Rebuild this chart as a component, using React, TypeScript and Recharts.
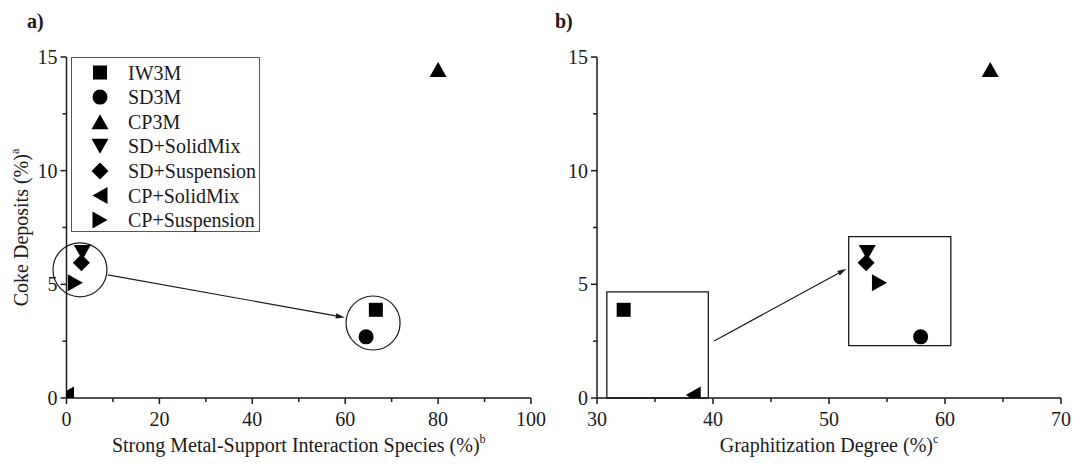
import React from 'react';
import {
  ScatterChart,
  Scatter,
  XAxis,
  YAxis,
  Legend,
  Label,
  ReferenceDot,
  ReferenceArea,
  ReferenceLine,
} from 'recharts';

// series, in legend order
const seriesNames = ['IW3M', 'SD3M', 'CP3M', 'SD+SolidMix', 'SD+Suspension', 'CP+SolidMix', 'CP+Suspension'];
const markerKinds = ['square', 'circle', 'triangleUp', 'triangleDown', 'diamond', 'triangleLeft', 'triangleRight'];

// values
const cokeDeposits = [3.88, 2.69, 14.45, 6.4, 5.95, 0.13, 5.07];
const smsiSpecies = [66.6, 64.5, 80.0, 3.4, 3.2, 0.0, 1.9];
const graphitization = [32.3, 57.9, 63.9, 53.3, 53.2, 38.3, 54.35];

// axis ticks (majors get labels)
const xTicksA = [0, 10, 20, 30, 40, 50, 60, 70, 80, 90, 100];
const xTicksB = [30, 35, 40, 45, 50, 55, 60, 65, 70];
const yTicks = [0, 2.5, 5, 7.5, 10, 12.5, 15];

// annotations (data units)
const circlesA = [
  { x: 2.9, y: 5.64 },
  { x: 66.0, y: 3.3 },
];
const arrowA = [
  { x: 8.9, y: 5.42 },
  { x: 59.9, y: 3.54 },
];
const boxesB = [
  { x1: 30.85, x2: 39.6, y1: 0, y2: 4.67 },
  { x1: 51.7, x2: 60.5, y1: 2.3, y2: 7.1 },
];
const arrowB = [
  { x: 40.1, y: 2.51 },
  { x: 51.5, y: 5.68 },
];

const FONT = '"Liberation Serif", "Times New Roman", serif';
const INK = '#1a1a1a';

const Marker = ({ cx, cy, kind }: { cx: number; cy: number; kind: string }) => {
  if (cx == null || cy == null) return null;
  switch (kind) {
    case 'square':
      return <rect x={cx - 7} y={cy - 7} width={14} height={14} fill="#000" />;
    case 'circle':
      return <circle cx={cx} cy={cy} r={7.5} fill="#000" />;
    case 'triangleUp':
      return <polygon points={`${cx},${cy - 7.5} ${cx + 8.5},${cy + 7.5} ${cx - 8.5},${cy + 7.5}`} fill="#000" />;
    case 'triangleDown':
      return <polygon points={`${cx - 8.5},${cy - 7.5} ${cx + 8.5},${cy - 7.5} ${cx},${cy + 7.5}`} fill="#000" />;
    case 'triangleLeft':
      return <polygon points={`${cx - 7.5},${cy} ${cx + 7.5},${cy - 8.5} ${cx + 7.5},${cy + 8.5}`} fill="#000" />;
    case 'triangleRight':
      return <polygon points={`${cx + 7.5},${cy} ${cx - 7.5},${cy - 8.5} ${cx - 7.5},${cy + 8.5}`} fill="#000" />;
    case 'diamond':
      return <polygon points={`${cx},${cy - 8.5} ${cx + 8.5},${cy} ${cx},${cy + 8.5} ${cx - 8.5},${cy}`} fill="#000" />;
    default:
      return null;
  }
};

// ticks drawn by hand so minor ticks can be shorter and unlabelled
const renderXTick = (props: any, majorStep: number) => {
  const { x, y, payload } = props;
  const major = payload.value % majorStep === 0;
  return (
    <g>
      <line x1={x} y1={y} x2={x} y2={y + (major ? 6 : 4)} stroke={INK} strokeWidth={1.5} />
      {major && (
        <text x={x} y={y + 28} textAnchor="middle" fontFamily={FONT} fontSize={20} fill={INK}>
          {payload.value}
        </text>
      )}
    </g>
  );
};

const renderYTick = (props: any) => {
  const { x, y, payload } = props;
  const major = payload.value % 5 === 0;
  return (
    <g>
      <line x1={x - (major ? 6 : 4)} y1={y} x2={x} y2={y} stroke={INK} strokeWidth={1.5} />
      {major && (
        <text x={x - 9} y={y + 7} textAnchor="end" fontFamily={FONT} fontSize={20} fill={INK}>
          {payload.value}
        </text>
      )}
    </g>
  );
};

const xTitle = (text: string, sup: string) => (props: any) => {
  const { x, y, width } = props.viewBox;
  return (
    <text x={x + width / 2} y={y + 54} textAnchor="middle" fontFamily={FONT} fontSize={20} fill={INK}>
      {text}
      <tspan dy={-9} fontSize={12}>{sup}</tspan>
    </text>
  );
};

const yTitle = (props: any) => {
  const { y, height } = props.viewBox;
  const cx = 28;
  const cy = y + height / 2;
  return (
    <text x={cx} y={cy} transform={`rotate(-90, ${cx}, ${cy})`} textAnchor="middle" fontFamily={FONT} fontSize={20} fill={INK}>
      Coke Deposits (%)
      <tspan dy={-9} fontSize={12}>a</tspan>
    </text>
  );
};

const Arrow = (props: any) => {
  const { x1, y1, x2, y2 } = props;
  if (x1 == null) return null;
  const ang = Math.atan2(y2 - y1, x2 - x1);
  const len = 9;
  const half = 2.6;
  const bx = x2 - len * Math.cos(ang);
  const by = y2 - len * Math.sin(ang);
  const px = -Math.sin(ang) * half;
  const py = Math.cos(ang) * half;
  return (
    <g>
      <line x1={x1} y1={y1} x2={bx} y2={by} stroke={INK} strokeWidth={1.2} />
      <polygon points={`${x2},${y2} ${bx + px},${by + py} ${bx - px},${by - py}`} fill={INK} />
    </g>
  );
};

const LegendBox = () => (
  <svg width={189} height={175} style={{ display: 'block' }}>
    <rect x={0.5} y={0.5} width={188} height={174} fill="#fff" stroke="#555" strokeWidth={1} />
    {seriesNames.map((name, i) => {
      const cy = 15.5 + i * 24.6;
      return (
        <g key={name}>
          <Marker cx={29} cy={cy} kind={markerKinds[i]} />
          <text x={57} y={cy + 7} fontFamily={FONT} fontSize={20} fill={INK}>
            {name}
          </text>
        </g>
      );
    })}
  </svg>
);

const axisLine = { stroke: INK, strokeWidth: 1.5 };

// panel a is drawn a bit wider than its half so the "100" label is not cut
const PanelA = () => (
  <ScatterChart width={560} height={466} margin={{ top: 57, right: 29, bottom: 8, left: 6.5 }}>
    <XAxis
      type="number"
      dataKey="x"
      domain={[0, 100]}
      ticks={xTicksA}
      interval={0}
      allowDataOverflow
      height={60}
      tickSize={0}
      tickMargin={0}
      tickLine={false}
      axisLine={axisLine}
      tick={(p: any) => renderXTick(p, 20)}
    >
      <Label content={xTitle('Strong Metal-Support Interaction Species (%)', 'b')} />
    </XAxis>
    <YAxis
      type="number"
      dataKey="y"
      domain={[0, 15]}
      ticks={yTicks}
      interval={0}
      allowDataOverflow
      width={60}
      tickSize={0}
      tickMargin={0}
      tickLine={false}
      axisLine={axisLine}
      tick={renderYTick}
    >
      <Label content={yTitle} />
    </YAxis>
    <Legend
      layout="vertical"
      align="center"
      verticalAlign="middle"
      content={() => <LegendBox />}
      wrapperStyle={{ position: 'absolute', left: 70.5, top: 56.5, width: 189, height: 175 }}
    />
    {circlesA.map((c, i) => (
      <ReferenceDot key={i} x={c.x} y={c.y} r={27} fill="none" stroke={INK} strokeWidth={1.2} ifOverflow="visible" />
    ))}
    <ReferenceLine segment={arrowA} shape={<Arrow />} ifOverflow="visible" />
    {seriesNames.map((name, i) => (
      <Scatter
        key={name}
        name={name}
        data={[{ x: smsiSpecies[i], y: cokeDeposits[i] }]}
        isAnimationActive={false}
        shape={(p: any) => <Marker cx={p.cx} cy={p.cy} kind={markerKinds[i]} />}
      />
    ))}
  </ScatterChart>
);

const PanelB = () => (
  <ScatterChart width={533} height={466} margin={{ top: 57, right: 12, bottom: 8, left: 7 }}>
    <XAxis
      type="number"
      dataKey="x"
      domain={[30, 70]}
      ticks={xTicksB}
      interval={0}
      allowDataOverflow
      height={60}
      tickSize={0}
      tickMargin={0}
      tickLine={false}
      axisLine={axisLine}
      tick={(p: any) => renderXTick(p, 10)}
    >
      <Label content={xTitle('Graphitization Degree (%)', 'c')} />
    </XAxis>
    <YAxis
      type="number"
      dataKey="y"
      domain={[0, 15]}
      ticks={yTicks}
      interval={0}
      allowDataOverflow
      width={50}
      tickSize={0}
      tickMargin={0}
      tickLine={false}
      axisLine={axisLine}
      tick={renderYTick}
    />
    {boxesB.map((b, i) => (
      <ReferenceArea
        key={i}
        x1={b.x1}
        x2={b.x2}
        y1={b.y1}
        y2={b.y2}
        fill="none"
        stroke={INK}
        strokeWidth={1.3}
        ifOverflow="visible"
      />
    ))}
    <ReferenceLine segment={arrowB} shape={<Arrow />} ifOverflow="visible" />
    {seriesNames.map((name, i) => (
      <Scatter
        key={name}
        name={name}
        data={[{ x: graphitization[i], y: cokeDeposits[i] }]}
        isAnimationActive={false}
        shape={(p: any) => <Marker cx={p.cx} cy={p.cy} kind={markerKinds[i]} />}
      />
    ))}
  </ScatterChart>
);

const panelLabel: React.CSSProperties = {
  position: 'absolute',
  top: 11,
  fontFamily: FONT,
  fontSize: 20,
  fontWeight: 'bold',
  lineHeight: '20px',
  color: INK,
};

export default function App() {
  return (
    <div style={{ position: 'absolute', left: 0, top: 0, width: 1073, height: 466, background: '#fff', overflow: 'hidden' }}>
      <div style={{ position: 'absolute', left: 540, top: 0 }}>
        <PanelB />
      </div>
      <div style={{ position: 'absolute', left: 0, top: 0 }}>
        <PanelA />
      </div>
      <div style={{ ...panelLabel, left: 27 }}>a)</div>
      <div style={{ ...panelLabel, left: 555 }}>b)</div>
    </div>
  );
}
